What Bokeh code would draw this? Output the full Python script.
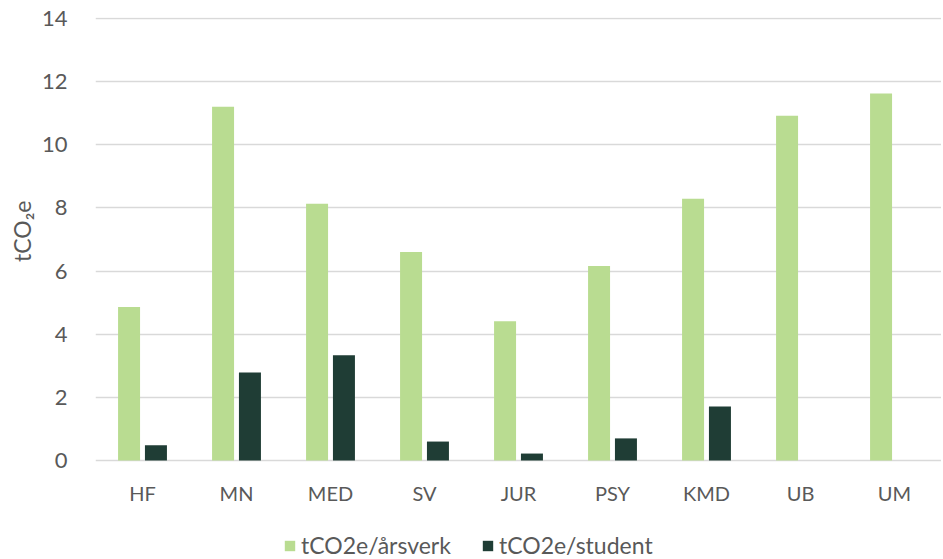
from bokeh.plotting import figure
from bokeh.models import (ColumnDataSource, Legend, LegendItem, FactorRange, Range1d,
                          FixedTicker, Title)
from bokeh.core.properties import value
from bokeh.transform import dodge
from bokeh.embed import file_html
from bokeh.resources import INLINE

categories = ["HF", "MN", "MED", "SV", "JUR", "PSY", "KMD", "UB", "UM"]
arsverk = [4.86, 11.2, 8.13, 6.6, 4.41, 6.16, 8.29, 10.92, 11.62]
student = [0.48, 2.79, 3.33, 0.6, 0.22, 0.7, 1.71, 0, 0]
series_names = ["tCO2e/årsverk", "tCO2e/student"]
y_ticks = [0, 2, 4, 6, 8, 10, 12, 14]
colors = ["#b9dc91", "#1f3d35"]

FONT = "Lato"
GRAY = "#595959"

# frame spans the plot area and the space below it (category labels + legend)
Y_TOP = 14.03
FRAME_H = 542
PX_PER_UNIT = 443 / Y_TOP
Y_BOTTOM = -(FRAME_H - 443) / PX_PER_UNIT
LABEL_Y = -32 / PX_PER_UNIT

src = ColumnDataSource(dict(cat=categories, a=arsverk, s=student))
lab = ColumnDataSource(dict(cat=categories, y=[LABEL_Y] * len(categories)))

p = figure(frame_width=846, frame_height=FRAME_H, x_range=FactorRange(*categories, range_padding=0),
           y_range=Range1d(Y_BOTTOM, Y_TOP), output_backend="svg", toolbar_location=None,
           x_axis_location=None,
           min_border_left=95, min_border_right=0, min_border_top=17, min_border_bottom=0)
p.outline_line_color = None

r1 = p.vbar(x=dodge("cat", -0.143, range=p.x_range), top="a", width=0.234, source=src,
            fill_color=colors[0], line_color=None)
r2 = p.vbar(x=dodge("cat", 0.143, range=p.x_range), top="s", width=0.234, source=src,
            fill_color=colors[1], line_color=None)

# category labels
p.text(x="cat", y="y", text="cat", source=lab, text_font=value(FONT), text_font_size="20px",
       text_color=GRAY, text_align="center", text_baseline="middle")

p.yaxis.ticker = FixedTicker(ticks=y_ticks)
p.yaxis.axis_line_color = None
p.yaxis.major_tick_line_color = None
p.yaxis.minor_tick_line_color = None
p.yaxis.major_label_text_font = FONT
p.yaxis.major_label_text_font_size = "22px"
p.yaxis.major_label_text_color = GRAY
p.yaxis.major_label_standoff = 22

p.xgrid.grid_line_color = None
p.ygrid.grid_line_color = "#d9d9d9"
p.ygrid.grid_line_width = 1.5

ytitle = Title(text="tCO₂e", align="right", offset=183, text_font=FONT,
               text_font_style="normal", text_font_size="23px", text_color=GRAY,
               vertical_align="middle", standoff=4)
p.add_layout(ytitle, "left")

legend = Legend(items=[LegendItem(label=series_names[0], renderers=[r1]),
                       LegendItem(label=series_names[1], renderers=[r2])],
                orientation="horizontal", location=(188, 0),
                label_text_font=FONT, label_text_font_size="23px", label_text_color=GRAY,
                glyph_width=13, glyph_height=13, spacing=30, label_standoff=5,
                border_line_color=None, background_fill_alpha=0, margin=0, padding=0)
p.add_layout(legend, "center")

open("out.html", "w").write(file_html(p, INLINE))
